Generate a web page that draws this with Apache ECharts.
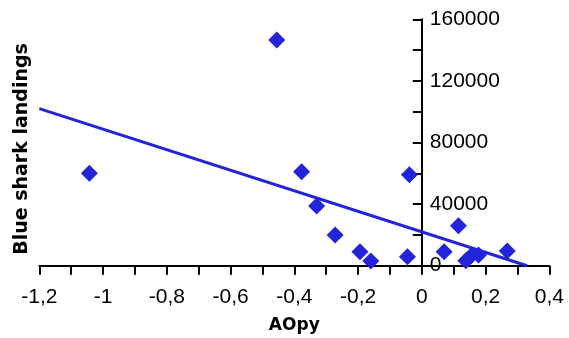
<!DOCTYPE html>
<html>
<head>
<meta charset="utf-8">
<script src="https://cdn.jsdelivr.net/npm/echarts@6/dist/echarts.min.js"></script>
<style>
html,body{margin:0;padding:0;background:#fff;}
#chart{width:569px;height:338px;}
</style>
</head>
<body>
<div id="chart"></div>
<script>
// Data
var aoValues = [-1.043, -0.455, -0.377, -0.330, -0.272, -0.194, -0.160, -0.045, -0.039, 0.070, 0.115, 0.138, 0.155, 0.178, 0.268];
var landings = [60000, 146500, 61000, 38800, 20000, 9000, 3000, 5800, 59000, 9000, 26000, 3200, 6500, 7000, 9500];
var trendX = [-1.2, 0.33];
var trendY = [102000, 0];
var xTicks = [-1.2, 0.4, 0.2];      // min, max, interval
var yTicks = [0, 160000, 40000];    // min, max, interval

var blue = '#2323DA';
var points = aoValues.map(function (x, i) { return [x, landings[i]]; });
var trend = trendX.map(function (x, i) { return [x, trendY[i]]; });

var gridLeft = 39.3, gridRight = 19.7;
var plotW = 569 - gridLeft - gridRight;
var zeroOffset = -plotW * (0 - xTicks[0]) / (xTicks[1] - xTicks[0]);

var chart = echarts.init(document.getElementById('chart'), null, {renderer: 'canvas'});
chart.setOption({
  animation: false,
  backgroundColor: '#ffffff',
  grid: {left: gridLeft, right: gridRight, top: 19.3, bottom: 72.3, containLabel: false, outerBoundsMode: 'none'},
  xAxis: {
    type: 'value',
    min: xTicks[0], max: xTicks[1], interval: xTicks[2],
    name: 'AOpy', nameLocation: 'middle', nameGap: 51,
    nameTextStyle: {fontFamily: 'DejaVu Sans', fontWeight: 'bold', fontSize: 17, color: '#000'},
    axisLine: {onZero: true, lineStyle: {color: '#000', width: 2}},
    axisTick: {show: true, inside: false, length: 9, lineStyle: {color: '#000', width: 2}},
    minorTick: {show: true, splitNumber: 2, length: 9, lineStyle: {color: '#000', width: 2}},
    splitLine: {show: false},
    minorSplitLine: {show: false},
    axisLabel: {
      margin: 21, fontFamily: 'Liberation Sans', fontSize: 21, color: '#000',
      formatter: function (v) { return (Math.round(v * 10) / 10).toString().replace('.', ','); }
    }
  },
  yAxis: {
    type: 'value',
    position: 'left',
    offset: zeroOffset,
    min: yTicks[0], max: yTicks[1], interval: yTicks[2],
    axisLine: {onZero: false, lineStyle: {color: '#000', width: 2}},
    axisTick: {show: true, inside: false, length: 9, lineStyle: {color: '#000', width: 2}},
    minorTick: {show: true, splitNumber: 2, length: 9, lineStyle: {color: '#000', width: 2}},
    splitLine: {show: false},
    minorSplitLine: {show: false},
    axisLabel: {
      inside: true, margin: 8, fontFamily: 'Liberation Sans', fontSize: 21, color: '#000',
      verticalAlignMinLabel: 'middle', verticalAlignMaxLabel: 'middle',
      formatter: function (v) { return String(v); }
    }
  },
  graphic: [{
    type: 'text',
    x: 22, y: 149,
    rotation: Math.PI / 2,
    style: {
      text: 'Blue shark landings',
      fill: '#000',
      font: 'bold 19px "DejaVu Sans"',
      align: 'center',
      verticalAlign: 'middle'
    }
  }],
  series: [{
    type: 'line',
    data: trend,
    showSymbol: false,
    symbol: 'none',
    lineStyle: {color: blue, width: 3},
    z: 2
  }, {
    type: 'scatter',
    data: points,
    symbol: 'diamond',
    symbolSize: 17,
    itemStyle: {color: blue, opacity: 1},
    z: 3
  }]
});
</script>
</body>
</html>
